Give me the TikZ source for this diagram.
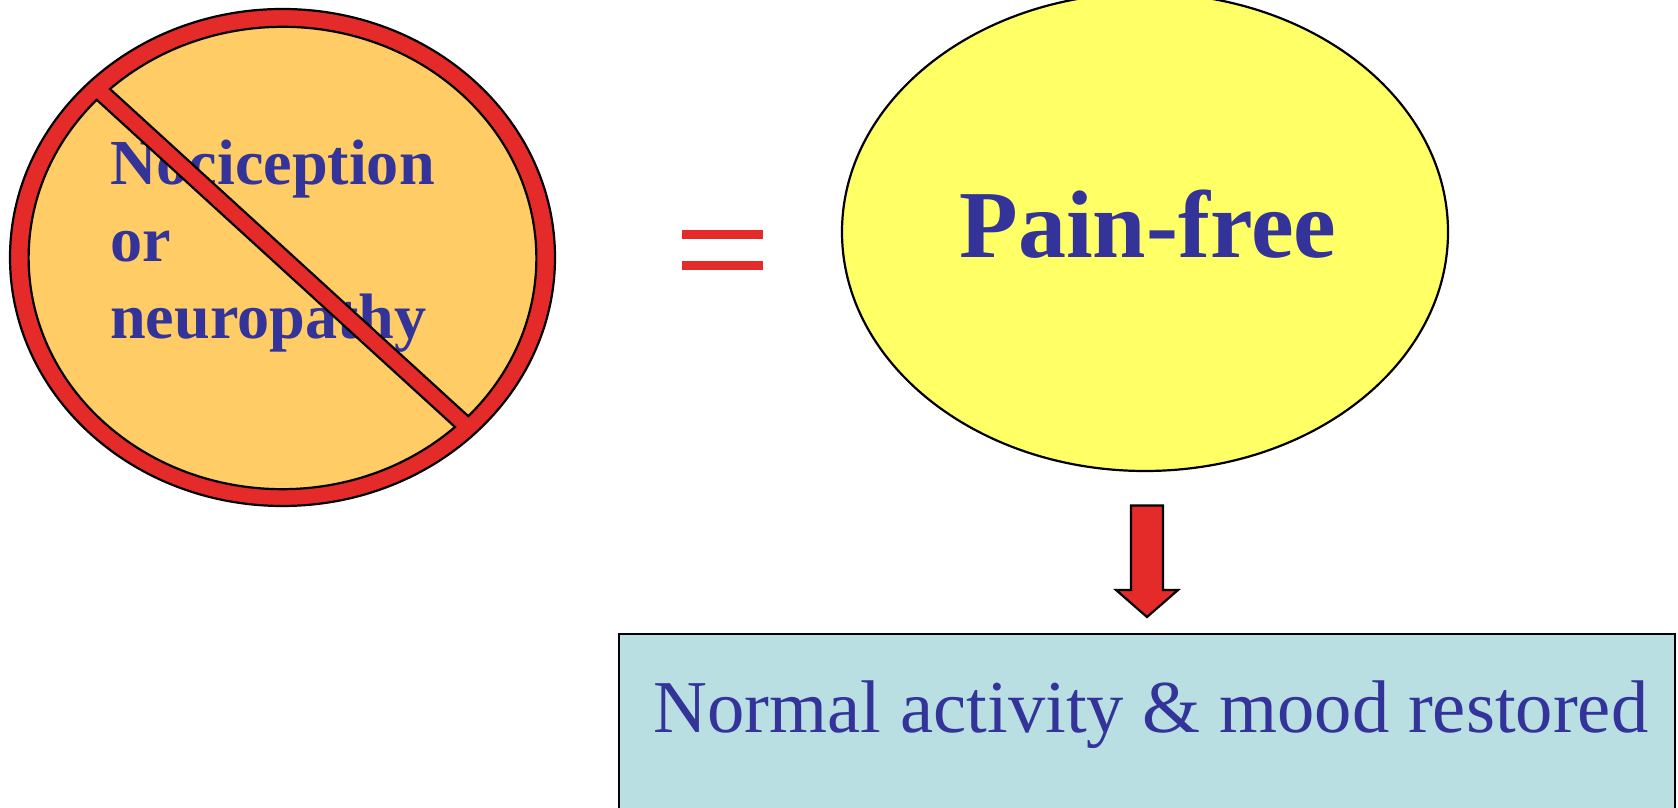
\documentclass[tikz,border=0pt]{standalone}
\usepackage{fontspec}
\setmainfont{Liberation Serif}
\usetikzlibrary{shapes.geometric}
\definecolor{txtblue}{HTML}{333399}
\definecolor{barred}{HTML}{E52A2A}
\definecolor{orangefill}{HTML}{FFCC66}
\definecolor{yellowfill}{HTML}{FFFF66}
\definecolor{boxfill}{HTML}{B9DFE3}
\tikzset{
  edge/.style={draw=black,line width=2.2pt},
  blob/.style={ellipse,edge,inner sep=0pt,outer sep=0pt},
  boldlabel/.style={anchor=base west,inner sep=0pt,text=txtblue,font=\fontsize{64.2}{70}\selectfont\bfseries},
  redshape/.style={fill=barred,edge}
}
\begin{document}
\begin{tikzpicture}[x=1pt,y=1pt]
\useasboundingbox (0,0) rectangle (1678,808);
\clip (0,0) rectangle (1678,808);
% left disc
\node[blob,fill=orangefill,minimum width=510pt,minimum height=466pt] (disc) at (282.5,550.5) {};
\node[boldlabel] (t1) at (110,623) {Nociception};
\node[boldlabel] (t2) at (110,546) {or};
\node[boldlabel] (t3) at (110,469) {neuropathy};
% prohibition ring and slash
\path[redshape,even odd rule]
  (282.5,550.5) ellipse [x radius=272.5,y radius=248.5]
  (110,719) arc [start angle=133,end angle=-43,x radius=253.5,y radius=231.5] -- cycle
  (455,381) arc [start angle=-47,end angle=-223,x radius=253.5,y radius=231.5] -- cycle;
% equals sign
\fill[barred] (682,569) rectangle (763,578);
\fill[barred] (682,538) rectangle (763,547);
% right ellipse
\node[blob,fill=yellowfill,minimum width=606pt,minimum height=478pt] (pain) at (1145,576) {};
\node[anchor=base,inner sep=0pt,text=txtblue,font=\fontsize{96}{100}\selectfont\bfseries] (ptext) at (1148,550) {Pain-free};
% block arrow
\path[redshape,line join=miter]
  (1131,302.5) -- (1163,302.5) -- (1163,218) -- (1178,218) -- (1147,191) -- (1116,218) -- (1131,218) -- cycle;
% box
\node[edge,fill=boxfill,anchor=north west,minimum width=1056pt,minimum height=210pt,inner sep=0pt,outer sep=0pt] (result) at (619,174) {};
\node[anchor=base,inner sep=0pt,text=txtblue,font=\fontsize{74.6}{80}\selectfont] (rtext) at (1151,75) {Normal activity \& mood restored};
\end{tikzpicture}
\end{document}
